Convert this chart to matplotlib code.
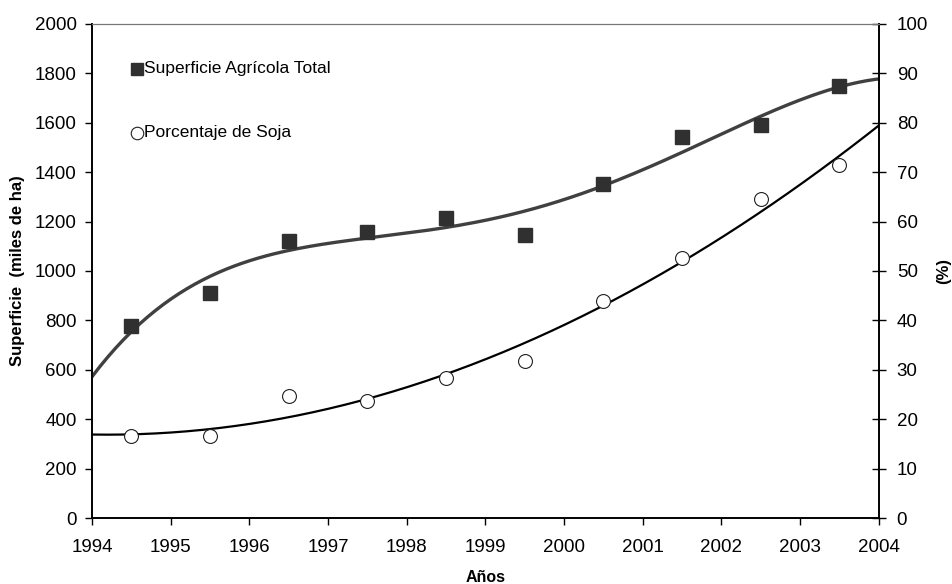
import numpy as np
import matplotlib.pyplot as plt
import matplotlib as mpl

mpl.rcParams.update({
    "font.family": ["Liberation Sans", "DejaVu Sans"],
    "font.size": 13.5,
})

# data
years = [1994.5, 1995.5, 1996.5, 1997.5, 1998.5, 1999.5, 2000.5, 2001.5, 2002.5, 2003.5]
superficie = [777, 910, 1123, 1157, 1213, 1146, 1352, 1544, 1592, 1749]
soja_pct = [16.5, 16.5, 24.7, 23.7, 28.3, 31.8, 43.9, 52.7, 64.5, 71.5]
x_ticks = list(range(1994, 2005))

fig = plt.figure(figsize=(9.53, 5.84), dpi=100)
ax = fig.add_axes([0.0965, 0.113, 0.8255, 0.846])
ax2 = ax.twinx()

# polynomial trend lines, like the spreadsheet original
xx = np.linspace(1994, 2004, 200)
c1 = np.polyfit(np.array(years) - 1994, superficie, 4)
c2 = np.polyfit(np.array(years) - 1994, soja_pct, 3)
ax.plot(xx, np.polyval(c1, xx - 1994), color="#404040", lw=2.4, zorder=2)
ax2.plot(xx, np.polyval(c2, xx - 1994), color="black", lw=1.6, zorder=2)

ax.plot(years, superficie, ls="none", marker="s", ms=10, color="#303030",
        zorder=3)
ax2.plot(years, soja_pct, ls="none", marker="o", ms=10, mfc="white",
         mec="#202020", mew=0.8, zorder=3)

ax.set_xlim(1994, 2004)
ax.set_ylim(0, 2000)
ax2.set_ylim(0, 100)
ax.set_xticks(x_ticks)
ax.set_yticks(range(0, 2001, 200))
ax2.set_yticks(range(0, 101, 10))

ax.tick_params(axis="y", direction="out", length=5, width=1, pad=6)
ax.tick_params(axis="x", direction="out", length=5, width=1, pad=10)
ax2.tick_params(axis="y", direction="inout", length=10, width=1, pad=8)

for a in (ax, ax2):
    a.spines["top"].set_color("#777")
    a.spines["top"].set_linewidth(0.8)
    a.spines["left"].set_linewidth(1.2)
    a.spines["bottom"].set_linewidth(1.2)
    a.spines["right"].set_linewidth(1.2)

ax.set_xlabel("Años", fontsize=11.5, fontweight="bold", labelpad=10)
ax.set_ylabel("Superficie  (miles de ha)", fontsize=12, fontweight="bold",
              labelpad=7)
ax2.set_ylabel("(%)", fontsize=12, fontweight="bold", labelpad=6)

# legend drawn as in the original: markers + labels inside the plot
ax.plot([1994.57], [1818], ls="none", marker="s", ms=9, color="#303030")
ax.text(1994.66, 1818, "Superficie Agrícola Total", fontsize=12.5, va="center")
ax.plot([1994.57], [1559], ls="none", marker="o", ms=9, mfc="white",
        mec="#202020", mew=0.8)
ax.text(1994.66, 1559, "Porcentaje de Soja", fontsize=12.5, va="center")

fig.savefig("out.png", dpi=100, facecolor="white")
